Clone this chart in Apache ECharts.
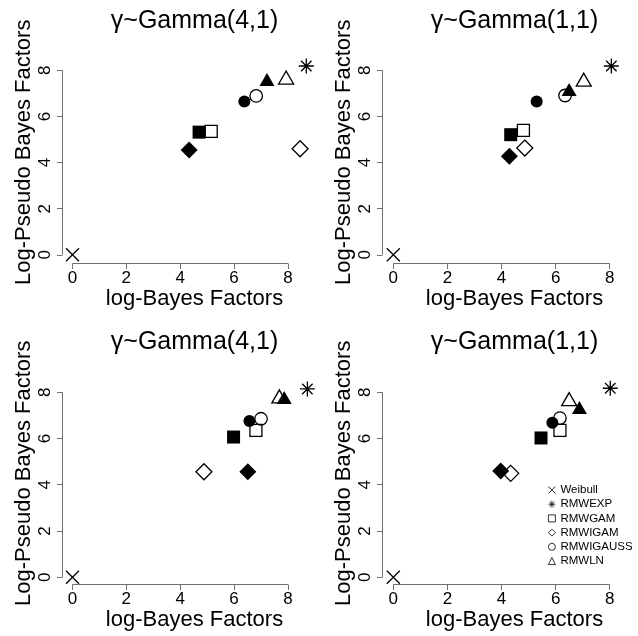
<!DOCTYPE html>
<html>
<head>
<meta charset="utf-8">
<script src="https://cdn.jsdelivr.net/npm/echarts@6/dist/echarts.min.js"></script>
<style>
  html, body { margin: 0; padding: 0; background: #fff; }
  #chart { width: 638px; height: 636px; }
</style>
</head>
<body>
<div id="chart"></div>
<script>
// panel titles (prior on gamma)
var titles = ["γ~Gamma(4,1)", "γ~Gamma(1,1)", "γ~Gamma(4,1)", "γ~Gamma(1,1)"];
var legendNames = ["Weibull", "RMWEXP", "RMWGAM", "RMWIGAM", "RMWIGAUSS", "RMWLN"];
var models = ["RMWGAM", "RMWIGAM", "RMWIGAUSS", "RMWLN"];
var xTicks = [0, 2, 4, 6, 8];
var yTicks = [0, 2, 4, 6, 8];

// Weibull is the baseline model
var weibullBF = [0, 0, 0, 0];
var weibullPBF = [0, 0, 0, 0];
var rmwexpBF = [8.68, 8.06, 8.72, 8.02];
var rmwexpPBF = [8.19, 8.19, 8.14, 8.17];

// open symbols, per panel: RMWGAM, RMWIGAM, RMWIGAUSS, RMWLN
var openBF = [
  [5.15, 8.45, 6.82, 7.93],
  [4.81, 4.86, 6.35, 7.04],
  [6.81, 4.88, 7.00, 7.68],
  [6.16, 4.34, 6.16, 6.50]
];
var openPBF = [
  [5.35, 4.60, 6.89, 7.60],
  [5.40, 4.63, 6.91, 7.51],
  [6.35, 4.56, 6.85, 7.73],
  [6.35, 4.49, 6.88, 7.61]
];
// filled symbols
var filledBF = [
  [4.70, 4.33, 6.38, 7.22],
  [4.34, 4.29, 5.30, 6.50],
  [5.98, 6.51, 6.57, 7.86],
  [5.46, 3.97, 5.88, 6.88]
];
var filledPBF = [
  [5.32, 4.55, 6.65, 7.52],
  [5.21, 4.27, 6.65, 7.08],
  [6.06, 4.56, 6.75, 7.68],
  [6.02, 4.59, 6.68, 7.25]
];

var FONT = "Liberation Sans, Arial, Helvetica, sans-serif";
var GRAY = "#707070";
var CROSS = "path://M0,0L10,10M10,0L0,10";
var STAR = "path://M0,5L10,5M5,0L5,10M1.5,1.5L8.5,8.5M8.5,1.5L1.5,8.5";

// plot regions (R-like: axes drawn only from 0 to 8), edges on half pixels
var panels = [
  { left: 62.5, top: 41.1, width: 264, height: 222.4, xmin: -0.37, xmax: 9.43, ymin: -0.378, ymax: 9.27 },
  { left: 382.5, top: 41.1, width: 264, height: 222.4, xmin: -0.40, xmax: 9.36, ymin: -0.378, ymax: 9.27 },
  { left: 62.5, top: 362.1, width: 264, height: 222.4, xmin: -0.37, xmax: 9.43, ymin: -0.316, ymax: 9.30 },
  { left: 382.5, top: 362.1, width: 264, height: 222.4, xmin: -0.40, xmax: 9.36, ymin: -0.316, ymax: 9.30 }
];

var openSym = [
  { symbol: "rect", size: 12 },
  { symbol: "diamond", size: 16 },
  { symbol: "circle", size: 12.5 },
  { symbol: "triangle", size: [15, 13], offset: [0, -2] }
];
var filledSym = [
  { symbol: "rect", size: 13 },
  { symbol: "diamond", size: 17 },
  { symbol: "circle", size: 12 },
  { symbol: "triangle", size: [15, 13], offset: [0, -2] }
];

var openStyle = { color: "rgba(0,0,0,0)", borderColor: "#000", borderWidth: 1.3, opacity: 1 };

var grid = [], xAxis = [], yAxis = [], series = [], graphic = [];

panels.forEach(function (p, i) {
  grid.push({ left: p.left, top: p.top, width: p.width, height: p.height, outerBoundsMode: "none" });
  xAxis.push({
    gridIndex: i, type: "value", min: p.xmin, max: p.xmax, z: 10,
    name: "log-Bayes Factors", nameLocation: "middle", nameGap: 24,
    nameTextStyle: { fontSize: 22, color: "#000", fontFamily: FONT },
    axisLine: { show: false, onZero: false },
    splitLine: { show: false },
    axisTick: { show: true, length: 5.5, customValues: xTicks, lineStyle: { color: GRAY, width: 1 } },
    axisLabel: { customValues: xTicks, fontSize: 17, color: "#000", margin: 6, fontFamily: FONT }
  });
  yAxis.push({
    gridIndex: i, type: "value", min: p.ymin, max: p.ymax, z: 10,
    name: "Log-Pseudo Bayes Factors", nameLocation: "middle", nameGap: 28,
    nameTextStyle: { fontSize: 22, color: "#000", fontFamily: FONT },
    axisLine: { show: false, onZero: false },
    splitLine: { show: false },
    axisTick: { show: true, length: 5.5, customValues: yTicks, lineStyle: { color: GRAY, width: 1 } },
    axisLabel: { customValues: yTicks, rotate: 90, fontSize: 17, color: "#000", margin: 9, fontFamily: FONT }
  });

  graphic.push({
    type: "text",
    x: p.left + p.width / 2,
    y: p.top - 20.3,
    style: {
      text: titles[i], fill: "#000", fontSize: 25, fontFamily: FONT,
      textAlign: "center", textVerticalAlign: "middle", align: "center", verticalAlign: "middle"
    }
  });

  // R-style axis lines spanning the tick range only
  var xFirst = xTicks[0], xLast = xTicks[xTicks.length - 1];
  var yFirst = yTicks[0], yLast = yTicks[yTicks.length - 1];
  series.push({
    type: "line", xAxisIndex: i, yAxisIndex: i, clip: false, silent: true, z: 10,
    symbol: "none", lineStyle: { color: GRAY, width: 1 },
    data: [[xFirst, p.ymin], [xLast, p.ymin]]
  });
  series.push({
    type: "line", xAxisIndex: i, yAxisIndex: i, clip: false, silent: true, z: 10,
    symbol: "none", lineStyle: { color: GRAY, width: 1 },
    data: [[p.xmin, yFirst], [p.xmin, yLast]]
  });

  series.push({
    name: "Weibull", type: "scatter", xAxisIndex: i, yAxisIndex: i, clip: false,
    symbol: CROSS, symbolSize: 13, itemStyle: openStyle,
    data: [[weibullBF[i], weibullPBF[i]]]
  });
  series.push({
    name: "RMWEXP", type: "scatter", xAxisIndex: i, yAxisIndex: i, clip: false,
    symbol: STAR, symbolSize: 15, itemStyle: openStyle,
    data: [[rmwexpBF[i], rmwexpPBF[i]]]
  });
  models.forEach(function (m, k) {
    series.push({
      name: m, type: "scatter", xAxisIndex: i, yAxisIndex: i, clip: false,
      symbol: openSym[k].symbol, symbolSize: openSym[k].size, symbolOffset: openSym[k].offset || [0, 0],
      itemStyle: openStyle,
      data: [[openBF[i][k], openPBF[i][k]]]
    });
  });
  models.forEach(function (m, k) {
    series.push({
      name: m + " (filled)", type: "scatter", xAxisIndex: i, yAxisIndex: i, clip: false,
      symbol: filledSym[k].symbol, symbolSize: filledSym[k].size, symbolOffset: filledSym[k].offset || [0, 0],
      itemStyle: { color: "#000", opacity: 1 },
      data: [[filledBF[i][k], filledPBF[i][k]]]
    });
  });
});

var chart = echarts.init(document.getElementById("chart"), null, { renderer: "canvas" });
chart.setOption({
  animation: false,
  backgroundColor: "#fff",
  textStyle: { fontFamily: FONT },
  grid: grid,
  xAxis: xAxis,
  yAxis: yAxis,
  graphic: graphic,
  legend: {
    data: legendNames,
    orient: "vertical",
    left: 543, top: 479,
    itemWidth: 7, itemHeight: 7, itemGap: 2.2,
    selectedMode: false,
    textStyle: { fontSize: 11.5, color: "#000", lineHeight: 12, fontFamily: FONT },
    itemStyle: { borderWidth: 0.8 }
  },
  series: series
});
</script>
</body>
</html>
